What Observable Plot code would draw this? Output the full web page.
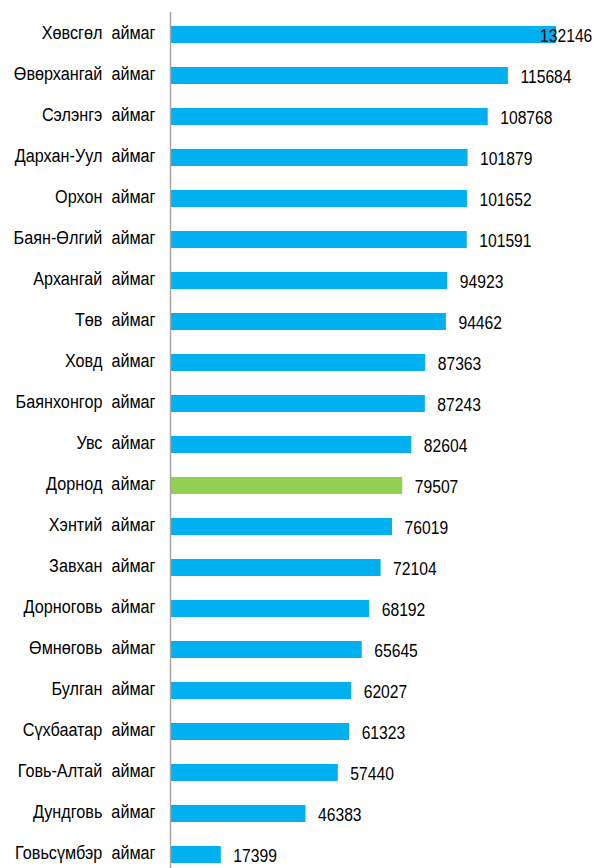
<!DOCTYPE html>
<html><head><meta charset="utf-8">
<script src="https://cdn.jsdelivr.net/npm/d3@7"></script>
<script src="https://cdn.jsdelivr.net/npm/@observablehq/plot@0.6"></script>
<style>
body{margin:0;background:#fff;overflow:hidden}
svg{display:block}
</style></head><body>
<div id="chart"></div>
<script>
const aimags = ["Хөвсгөл  аймаг","Өвөрхангай  аймаг","Сэлэнгэ  аймаг","Дархан-Уул  аймаг","Орхон  аймаг","Баян-Өлгий  аймаг","Архангай  аймаг","Төв  аймаг","Ховд  аймаг","Баянхонгор  аймаг","Увс  аймаг","Дорнод  аймаг","Хэнтий  аймаг","Завхан  аймаг","Дорноговь  аймаг","Өмнөговь  аймаг","Булган  аймаг","Сүхбаатар  аймаг","Говь-Алтай  аймаг","Дундговь  аймаг","Говьсүмбэр  аймаг"];
const populations = [132146,115684,108768,101879,101652,101591,94923,94462,87363,87243,82604,79507,76019,72104,68192,65645,62027,61323,57440,46383,17399];
const highlighted = "Дорнод  аймаг";
const labelCap = 122400;

const data = aimags.map((name, i) => ({name, value: populations[i]}));

const chart = Plot.plot({
  width: 595,
  height: 876,
  marginLeft: 170,
  marginRight: 39,
  marginTop: 12,
  marginBottom: 0,
  style: {fontFamily: "'Liberation Sans Narrow','Arial Narrow','Liberation Sans',Arial,sans-serif", fontSize: "18px", color: "#000", background: "#fff"},
  x: {domain: [0, 132146], axis: null},
  y: {domain: aimags, paddingInner: 0.59, paddingOuter: 0.295, label: null, tickSize: 0, tickPadding: 15, tickFormat: d => d.replace(/  /g, "\u00a0 ")},
  marks: [
    Plot.barX(data, {x: "value", y: "name", fill: d => d.name === highlighted ? "#92d050" : "#00b0f0"}),
    Plot.ruleX([0], {stroke: "#a6a6a6", strokeWidth: 1.5}),
    Plot.text(data, {x: d => Math.min(d.value, labelCap), y: "name", text: d => String(d.value), textAnchor: "start", dx: 12, dy: 1, fill: "#000", fontSize: 18})
  ]
});
document.getElementById("chart").appendChild(chart);
d3.select(chart).selectAll("text").each(function() {
  const w = this.getComputedTextLength();
  const isTick = this.closest("[aria-label='y-axis tick label']") !== null;
  if (w > 0) {
    this.setAttribute("textLength", (w * (isTick ? 0.9 : 0.87)).toFixed(1));
    this.setAttribute("lengthAdjust", "spacingAndGlyphs");
  }
  if (isTick) this.setAttribute("dy", "-0.1em");
});
</script>
</body></html>
